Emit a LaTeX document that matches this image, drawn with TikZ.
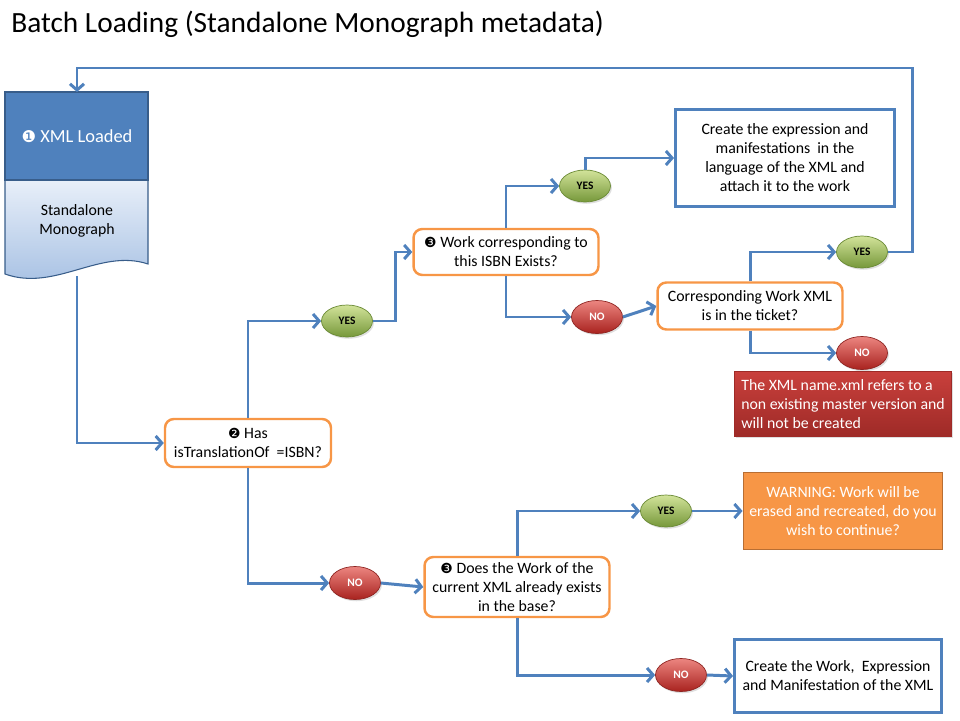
\documentclass[tikz,border=0pt]{standalone}
\usepackage{xcolor}
\usepackage{fontspec}
\setmainfont{Carlito}
\newfontfamily\dingfont{DejaVu Sans}
\usepackage{tikz}
\usetikzlibrary{arrows.meta, shapes.geometric, shadows}

\definecolor{flowblue}{HTML}{4F81BD}
\definecolor{darkblue}{HTML}{385D8A}
\definecolor{lightblue}{HTML}{E8EFF9}
\definecolor{midblue}{HTML}{A3BEE2}
\definecolor{askorange}{HTML}{F79646}
\definecolor{warnedge}{HTML}{B86E33}
\definecolor{yestop}{HTML}{D2E39A}
\definecolor{yesbot}{HTML}{76983A}
\definecolor{yesedge}{HTML}{6A8A35}
\definecolor{notop}{HTML}{EC8580}
\definecolor{nobot}{HTML}{A9231F}
\definecolor{noedge}{HTML}{8E2522}
\definecolor{errtop}{HTML}{C9403C}
\definecolor{errbot}{HTML}{9E2A27}

\newcommand{\dnum}[1]{{\dingfont\scalebox{0.88}{#1}}}

\tikzset{
    flow/.style={draw=flowblue, line width=1.7pt, ->, >={Straight Barb[length=3.5pt,width=8pt]}},
    question/.style={draw=askorange, line width=1.4pt, rounded corners=5pt, fill=white,
        align=center, font=\fontsize{9}{10.8}\selectfont, inner sep=2pt},
    action/.style={draw=flowblue, line width=1.7pt, fill=white,
        align=center, font=\fontsize{9}{10.8}\selectfont, inner sep=2pt},
    yesnode/.style={ellipse, draw=yesedge, line width=0.4pt, top color=yestop, bottom color=yesbot,
        minimum width=1.02cm, minimum height=0.64cm, inner sep=0pt,
        font=\fontsize{6.5}{7}\selectfont\bfseries, text=black,
        drop shadow={opacity=0.25, shadow xshift=0.8pt, shadow yshift=-1pt}},
    nonode/.style={ellipse, draw=noedge, line width=0.4pt, top color=notop, bottom color=nobot,
        minimum width=1.02cm, minimum height=0.66cm, inner sep=0pt,
        font=\fontsize{6.5}{7}\selectfont\bfseries, text=white,
        drop shadow={opacity=0.25, shadow xshift=0.8pt, shadow yshift=-1pt}}
}

\begin{document}
\begin{tikzpicture}[x=0.02cm, y=-0.02cm]
        \useasboundingbox (0,0) rectangle (960,720);

        % title
        \node[anchor=west, font=\fontsize{16.7}{19}\selectfont, inner sep=0pt] (title) at (11,24)
            {Batch Loading (Standalone Monograph metadata)};

        % document shape
        \shade[top color=lightblue, bottom color=midblue, draw=darkblue, line width=0.6pt]
            (5,180) -- (148,180) -- (148,264)
            .. controls (100,248) and (55,292) .. (5,274) -- cycle;
        \fill[flowblue] (5,92) rectangle (148,180);
        \draw[darkblue, line width=0.8pt] (5,92) rectangle (148,180);
        \node[text=white, font=\fontsize{10.5}{12}\selectfont] (xml) at (77,136) {\dnum{❶} XML Loaded};
        \node[align=center, font=\fontsize{9}{10.8}\selectfont] (mono) at (77,221) {Standalone\\Monograph};
        \coordinate (doctop) at (77,92);
        \coordinate (docbot) at (77,276);
        \coordinate (loop) at (912,68);

        % decisions
        \node[question, minimum width=3.32cm, minimum height=0.96cm] at (248,443) (has)
            {\dnum{❷} Has\\isTranslationOf\ \ =ISBN?};
        \node[question, minimum width=3.7cm, minimum height=0.92cm] at (506,252) (work)
            {\dnum{❸} Work corresponding to\\this ISBN Exists?};
        \node[question, minimum width=3.7cm, minimum height=0.94cm] at (750,306) (ticket)
            {Corresponding Work XML\\is in the ticket?};
        \node[question, minimum width=3.7cm, minimum height=1.2cm] at (517,587) (exists)
            {\dnum{❸} Does the Work of the\\current XML already exists\\in the base?};

        % answers
        \node[yesnode] at (347,321) (yes1) {YES};
        \node[yesnode] at (585,186) (yes2) {YES};
        \node[nonode] at (597,317) (no1) {NO};
        \node[yesnode] at (862,252) (yes3) {YES};
        \node[nonode] at (862,353) (no2) {NO};
        \node[nonode] at (355,583) (no3) {NO};
        \node[yesnode] at (666,511) (yes4) {YES};
        \node[nonode] at (681,675) (no4) {NO};

        % outcomes
        \node[action, minimum width=4.38cm, minimum height=1.94cm] at (785,158) (expr)
            {Create the expression and\\manifestations\ \ in the\\language of the XML and\\attach it to the work};
        \node[draw=errbot, line width=0.6pt, top color=errtop, bottom color=errbot, text=white,
            align=left, font=\fontsize{9}{10.8}\selectfont, inner xsep=4pt,
            minimum width=4.34cm, minimum height=1.3cm,
            drop shadow={opacity=0.25, shadow xshift=1pt, shadow yshift=-1pt}] at (843,404) (master)
            {The XML name.xml refers to a\\non existing master version and\\will not be created};
        \node[draw=warnedge, line width=1pt, fill=askorange, text=white, align=center,
            font=\fontsize{9}{10.8}\selectfont, minimum width=3.94cm, minimum height=1.54cm] at (843,511) (warn)
            {WARNING: Work will be\\erased and recreated, do you\\wish to continue?};
        \node[action, minimum width=4.14cm, minimum height=1.46cm] at (838,676) (create)
            {Create the Work,\ \ Expression\\and Manifestation of the XML};

        % connectors
        \draw[flow] (docbot) |- (has.west);
        \draw[flow] (has.north) |- (yes1.west);
        \draw[flow] (yes1.east) -- ++(23,0) |- (work.west);
        \draw[flow] (work.north) |- (yes2.west);
        \draw[flow] (yes2.north) |- (expr.west);
        \draw[flow] (work.south) |- (no1.west);
        \draw[flow] (no1.east) -- (ticket.west);
        \draw[flow] (ticket.north) |- (yes3.west);
        \draw[flow] (ticket.south) |- (no2.west);
        \draw[flow] (yes3.east) -| (loop) -| (doctop);
        \draw[flow] (has.south) |- (no3.west);
        \draw[flow] (no3.east) -- (exists.west);
        \draw[flow] (exists.north) |- (yes4.west);
        \draw[flow] (yes4.east) -- (warn.west);
        \draw[flow] (exists.south) |- (no4.west);
        \draw[flow] (no4.east) -- (create.west);
    \end{tikzpicture}
\end{document}
